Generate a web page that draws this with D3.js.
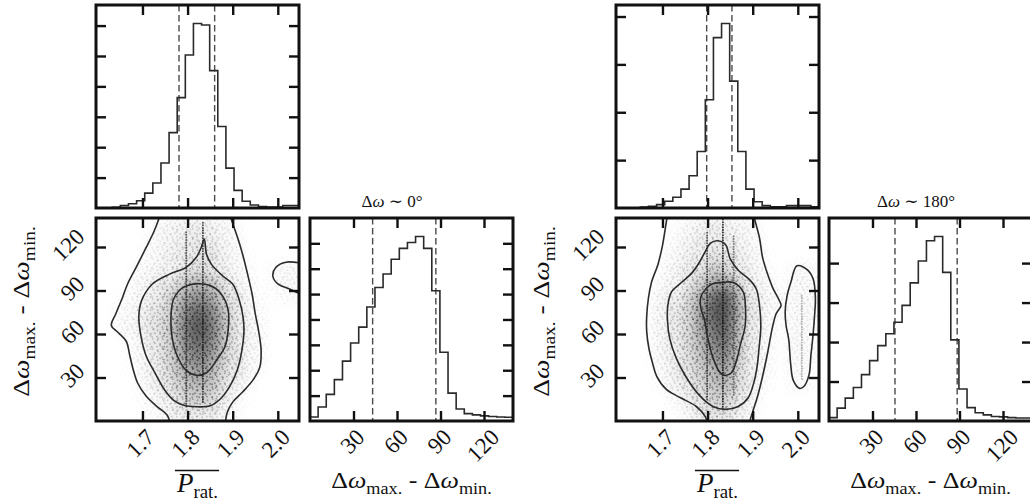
<!DOCTYPE html>
<html>
<head>
<meta charset="utf-8">
<script src="https://cdn.jsdelivr.net/npm/d3@7/dist/d3.min.js"></script>
<style>
  html, body { margin: 0; padding: 0; background: #fff; }
  svg { display: block; }
  text { font-family: "Liberation Serif", "DejaVu Serif", serif; fill: #111; white-space: pre; }
</style>
</head>
<body>
<svg id="chart" width="1030" height="504"></svg>
<script>
// ---------------- data ----------------
const pratDomain = [1.597, 2.047];
const dwDomain = [0, 140];
const pratTicks = [1.7, 1.8, 1.9, 2.0];
const pratTickLabels = ["1.7", "1.8", "1.9", "2.0"];
const dwTicks = [30, 60, 90, 120];
const dwTickLabels = ["30", "60", "90", "120"];
const nBins = 25;

// run with Δω ~ 0°
const pratCountsA = [0, 0, 2, 8, 14, 24, 49, 82, 148, 248, 363, 503, 607, 602, 452, 268, 131, 58, 22, 10, 5, 3, 3, 8, 8];
const dwCountsA = [16, 55, 105, 163, 236, 307, 370, 449, 526, 579, 637, 680, 703, 727, 680, 513, 271, 110, 47, 29, 24, 20, 18, 16, 15];
const pratQuantA = [1.781, 1.860];
const dwQuantA = [43.2, 86.8];
const pratCountTicksA = [100, 200, 300, 400, 500, 600];
const dwCountTicksA = [100, 200, 300, 400, 500, 600, 700];

// run with Δω ~ 180°
const pratCountsB = [0, 0, 0, 4, 7, 14, 28, 45, 79, 135, 236, 452, 712, 771, 530, 236, 79, 26, 10, 5, 5, 10, 10, 10, 5];
const dwCountsB = [17, 65, 116, 170, 235, 306, 382, 442, 500, 586, 700, 811, 913, 935, 753, 411, 162, 68, 42, 31, 23, 21, 17, 15, 15];
const pratQuantB = [1.798, 1.854];
const dwQuantB = [45.5, 88.4];
const pratCountTicksB = [200, 400, 600, 800];
const dwCountTicksB = [200, 400, 600, 800];

// 2-D sample density, 0..10, rows from Δω 130-140 down to 0-10,
// columns P from 1.600 to 2.050 in steps of 0.025
const densityA = [
  [0,0,0,0,0,0.8,1.2,1.5,1.8,1.8,1.3,1,0.4,0,0,0,0,0],
  [0,0,0,0,0.4,1,1.4,1.8,2.2,2.5,1.6,1.1,0.6,0,0,0,0,0],
  [0,0,0,0.2,0.7,1.1,1.6,2,2.6,3,2,1.2,0.8,0.2,0,0,0,0],
  [0,0,0,0.6,0.9,1.3,1.9,2.6,3.2,3.4,2.5,1.4,0.9,0.4,0.1,0.3,0.9,0.9],
  [0,0,0.2,0.8,1.3,2,2.8,4,5.5,5.5,4,2.6,1.2,0.6,0.2,0.4,1,0.9],
  [0,0.1,0.5,1,1.6,2.6,4,6,7.5,7.5,6,3.2,2,0.8,0.3,0.2,0.5,0.5],
  [0,0.3,0.7,1.2,2,3,4.5,7,9,9,7,4,2.4,1,0.5,0,0,0],
  [0,0.5,0.9,1.3,2.2,3.2,4.8,7.5,9.5,9.5,7.5,4.5,2.5,1.2,0.7,0,0,0],
  [0,0,0.3,0.8,1.8,3,4.5,7,9,9,7,4,2.4,1.1,0.8,0,0,0],
  [0,0,0.2,0.7,1.6,2.8,4.2,6.5,8,8,6.2,3.5,2.2,1,0.7,0,0,0],
  [0,0,0.1,0.6,1.4,2.5,3.8,5.5,6.8,6.8,5,3,2,1,0.3,0,0,0],
  [0,0,0,0.4,1,2,3.2,4.5,5.5,5.5,4.2,2.6,1.2,0.5,0,0,0,0],
  [0,0,0,0.2,0.7,1.3,2.3,3.5,4.2,4.2,3.2,1.5,0.6,0.2,0,0,0,0],
  [0,0,0,0.1,0.3,0.8,1.5,2.3,2.6,2.6,2,0.9,0.3,0,0,0,0,0]
];
const densityB = [
  [0,0,0,0,0,0.5,1,1.5,1.8,1.6,1.2,1,0.4,0,0,0,0,0],
  [0,0,0,0,0.3,0.9,1.4,2,2.4,2,1.5,1.1,0.6,0,0,0,0,0],
  [0,0,0,0,0.6,1.1,1.7,2.3,3,2.8,2,1.3,0.9,0.2,0,0,0,0],
  [0,0,0,0.2,0.9,1.4,2.2,3,4.2,4.3,2.6,1.6,1,0.4,0,0.5,0.9,0.5],
  [0,0,0,0.5,1.1,1.9,3,4.5,6.5,7,4.5,2.3,1.3,0.7,0.2,0.7,1,0.7],
  [0,0,0.2,0.8,1.6,2.5,4,6.5,9,10,6.5,3,1.6,1,0.7,0.8,1,0.8],
  [0,0,0.3,1,1.8,2.9,4.5,7,9.5,10,7,3.2,1.7,0.9,0.4,0.8,1,0.8],
  [0,0,0.3,1,1.8,2.8,4.3,6.8,9,9.5,6.5,3,1.5,0.8,0.2,0.8,1,0.7],
  [0,0,0.2,0.9,1.7,2.7,4,6,8,9,6,2.8,1.4,0.7,0.1,0.8,1,0.6],
  [0,0,0.1,0.8,1.5,2.5,3.6,5.3,7,8,5.2,2.6,1.3,0.6,0,0.8,0.9,0.5],
  [0,0,0,0.6,1.3,2.2,3.3,4.5,6,6.8,4.5,2.4,1.1,0.5,0,0.7,0.8,0.3],
  [0,0,0,0.3,1,1.8,2.8,3.8,5,5.5,3.8,2,0.9,0.3,0,0.5,0.6,0.2],
  [0,0,0,0,0.4,1,2,3,4,4.3,3,1.6,0.5,0,0,0,0,0],
  [0,0,0,0,0,0.4,1.2,2.2,3,3.2,2.4,1,0.2,0,0,0,0,0]
];
const densityColEdges = d3.range(19).map(i => 1.6 + i * 0.025);
const densityRowEdges = d3.range(15).map(i => 140 - i * 10);

// vertical runs of repeated P values: [P, Δω low, Δω high, weight]
const streaksA = [[1.797, 10, 131, 0.8], [1.834, 13, 137, 0.9]];
const streaksB = [[1.799, 15, 131, 0.8], [1.834, 8, 140, 1.0], [1.858, 18, 128, 0.6], [2.009, 29, 88, 0.35]];

// density contours, [P, Δω]
const outerLeftA = [[1.740,143],[1.737,140],[1.726,131],[1.708,119.5],[1.686,106],[1.667,94.5],[1.656,85.4],[1.641,74],[1.631,66],[1.646,61],[1.664,55],[1.672,45],[1.679,36],[1.689,26.4],[1.708,17.3],[1.733,9.8],[1.755,4],[1.762,-3]];
const outerRightA = [[1.894,143],[1.896,140],[1.911,126.4],[1.922,115],[1.933,101.3],[1.943,87.6],[1.950,74],[1.957,63],[1.963,49],[1.960,37],[1.946,28.7],[1.922,20],[1.900,13],[1.888,6],[1.883,-3]];
const islandA = [[2.060,108.5],[2.018,109.5],[1.996,106],[1.989,100.2],[2.000,94.5],[2.026,91],[2.060,86]];
const middleA = [[1.837,125.5],[1.842,115],[1.853,108],[1.878,100],[1.900,94.5],[1.915,83],[1.923,71.7],[1.925,62],[1.920,48],[1.910,35],[1.892,23],[1.872,15],[1.850,10.5],[1.820,9.8],[1.790,11],[1.770,14],[1.750,21],[1.728,33],[1.708,45],[1.697,58],[1.692,72],[1.698,83],[1.722,94.5],[1.760,101.3],[1.797,106],[1.819,112.7],[1.830,119.5]];
const innerA = [[1.828,94.7],[1.857,92.4],[1.879,85.6],[1.890,76.5],[1.890,63],[1.883,51.4],[1.865,42.3],[1.842,33.3],[1.820,31.5],[1.798,34.5],[1.777,45],[1.766,57],[1.763,69.7],[1.768,83.3],[1.783,90.5],[1.800,93.5]];

const outerLeftB = [[1.712,143],[1.710,140],[1.700,121],[1.690,108],[1.676,96],[1.669,85],[1.665,72],[1.665,62],[1.670,50],[1.678,40],[1.687,31],[1.708,22],[1.740,16],[1.775,10],[1.795,3],[1.800,-3]];
const outerRightB = [[1.903,143],[1.904,140],[1.915,126.4],[1.922,112.7],[1.933,101.3],[1.944,92.2],[1.959,83.1],[1.963,79.7],[1.952,74],[1.944,64.9],[1.933,46.9],[1.922,30.9],[1.911,17.3],[1.902,8.2],[1.895,1.4],[1.893,-3]];
const islandB = [[1.998,107],[2.020,104.5],[2.034,98],[2.039,85],[2.037,72],[2.034,60],[2.029,45],[2.025,32],[2.014,24],[2.004,22.5],[1.990,28],[1.984,40],[1.980,56],[1.974,66],[1.972,75],[1.976,86],[1.985,96]];
const middleB = [[1.822,124.3],[1.840,121.5],[1.850,112],[1.868,104],[1.893,97.5],[1.908,91],[1.915,80],[1.918,65],[1.914,50],[1.910,38],[1.903,27],[1.890,16],[1.868,10],[1.838,8],[1.812,10],[1.783,17.3],[1.753,30],[1.731,43],[1.716,57],[1.711,70],[1.712,80],[1.720,89],[1.740,95],[1.765,102],[1.783,110],[1.795,117],[1.806,122.5]];
const innerB = [[1.830,95.5],[1.857,95.5],[1.879,89],[1.884,78],[1.883,65],[1.873,53],[1.864,41.5],[1.853,33.3],[1.837,31.5],[1.825,34.5],[1.811,44.6],[1.800,58],[1.793,70],[1.785,78],[1.785,85.5],[1.796,91],[1.810,94.5]];

// ---------------- drawing ----------------
const S = 203;
const INK = "#111";
const svg = d3.select("#chart");
const defs = svg.append("defs");

defs.append("filter").attr("id", "soften")
  .attr("x", "-15%").attr("y", "-15%").attr("width", "130%").attr("height", "130%")
  .append("feGaussianBlur").attr("stdDeviation", 4.5);

// fine grain texture for the sample cloud
const grainTiles = [
  { id: "grain1", size: 10, dots: [[1.5,2.2],[6.8,1.1],[4.1,5.9],[8.9,5.2],[0.9,8.6],[6.2,9.1]] },
  { id: "grain2", size: 13, dots: [[2.6,0.9],[10.1,3.4],[5.9,7.2],[12.1,10.3],[3.2,11.6]] }
];
grainTiles.forEach(tile => {
  const p = defs.append("pattern").attr("id", tile.id)
    .attr("patternUnits", "userSpaceOnUse").attr("width", tile.size).attr("height", tile.size);
  tile.dots.forEach(([cx, cy]) => p.append("circle").attr("cx", cx).attr("cy", cy)
    .attr("r", 0.95).attr("fill", "#383838"));
});

const baseOpacity = d3.scalePow().exponent(1.6).domain([0, 10]).range([0, 0.8]).clamp(true);
const grainOpacity = d3.scaleLinear().domain([0, 10]).range([0, 1]).clamp(true);

function binEdges(domain) {
  return d3.range(nBins + 1).map(i => domain[0] + i * (domain[1] - domain[0]) / nBins);
}

function framedTicks(g, x, xVals, y, yVals) {
  const tidy = s => {
    s.select(".domain").remove();
    s.selectAll("text").remove();
    s.selectAll("line").attr("stroke", INK).attr("stroke-width", 2.4);
  };
  g.append("g").attr("transform", `translate(0,${S})`).call(d3.axisBottom(x).tickValues(xVals).tickSize(-10)).call(tidy);
  g.append("g").call(d3.axisTop(x).tickValues(xVals).tickSize(-10)).call(tidy);
  g.append("g").call(d3.axisLeft(y).tickValues(yVals).tickSize(-10)).call(tidy);
  g.append("g").attr("transform", `translate(${S},0)`).call(d3.axisRight(y).tickValues(yVals).tickSize(-10)).call(tidy);
  g.append("rect").attr("width", S).attr("height", S)
    .attr("fill", "none").attr("stroke", INK).attr("stroke-width", 3);
}

// 45° tick label whose ink box is placed below (top edge at `edge`) or left of a tick
function slantedLabel(g, str, pos, edge, side) {
  const size = 23;
  const holder = g.append("g");
  const t = holder.append("text").attr("text-anchor", "middle").attr("dy", "0.33em")
    .attr("transform", "rotate(-45)").style("font-size", size + "px").text(str);
  const w = t.node().getComputedTextLength();
  const half = (w / 2 + size * 0.33) / Math.SQRT2;
  if (side === "below") holder.attr("transform", `translate(${pos},${edge + half})`);
  else holder.attr("transform", `translate(${edge - half},${pos})`);
}

function mathText(g, parts, size) {
  const t = g.append("text").style("font-size", size + "px");
  let lowered = false;
  parts.forEach(([s, kind]) => {
    const ts = t.append("tspan").text(s);
    if (kind === "it") ts.style("font-style", "italic");
    if (kind === "sub") {
      ts.style("font-size", (size * 0.7) + "px");
      if (!lowered) { ts.attr("dy", size * 0.24); lowered = true; }
    } else if (lowered) { ts.attr("dy", -size * 0.24); lowered = false; }
  });
  return t;
}
const dwLabelParts = [["Δ", "rm"], ["ω", "it"], ["max.", "sub"], [" - ", "rm"], ["Δ", "rm"], ["ω", "it"], ["min.", "sub"]];

function histPanel(g, domain, counts, quants, countTicks, axisTicks) {
  const x = d3.scaleLinear().domain(domain).range([0, S]);
  const y = d3.scaleLinear().domain([0, 1.1 * d3.max(counts)]).range([S, 0]);
  const edges = binEdges(domain);
  const pts = [[edges[0], 0]].concat(counts.map((c, i) => [edges[i], c]),
    [[edges[nBins], counts[nBins - 1]], [edges[nBins], 0]]);
  g.selectAll("line.q").data(quants).join("line").attr("class", "q")
    .attr("x1", d => x(d)).attr("x2", d => x(d)).attr("y1", 0).attr("y2", S)
    .attr("stroke", "#4a4a4a").attr("stroke-width", 1.4).attr("stroke-dasharray", "6.5,3.5");
  g.append("path").attr("d", d3.line().x(d => x(d[0])).y(d => y(d[1])).curve(d3.curveStepAfter)(pts))
    .attr("fill", "none").attr("stroke", "#2a2a2a").attr("stroke-width", 1.6);
  framedTicks(g, x, axisTicks, y, countTicks);
  return x;
}

function drawCorner(ox, colX, pratCounts, dwCounts, pratQuant, dwQuant, pratCountTicks, dwCountTicks,
                    density, streaks, contourOpen, contourClosed, title, titleX, key) {
  const rowTop = 5, rowBottom = 218;

  // marginal of P_rat
  const gTop = svg.append("g").attr("transform", `translate(${colX[0]},${rowTop})`);
  histPanel(gTop, pratDomain, pratCounts, pratQuant, pratCountTicks, pratTicks);

  // joint panel
  const g = svg.append("g").attr("transform", `translate(${colX[0]},${rowBottom})`);
  const x = d3.scaleLinear().domain(pratDomain).range([0, S]);
  const y = d3.scaleLinear().domain(dwDomain).range([S, 0]);
  defs.append("clipPath").attr("id", "clip" + key).append("rect").attr("width", S).attr("height", S);
  const inside = g.append("g").attr("clip-path", `url(#clip${key})`);

  const cells = [];
  density.forEach((row, r) => row.forEach((v, c) => cells.push({ r, c, v })));
  const cellRect = sel => sel
    .attr("x", d => x(densityColEdges[d.c]))
    .attr("width", d => x(densityColEdges[d.c + 1]) - x(densityColEdges[d.c]) + 0.5)
    .attr("y", d => y(densityRowEdges[d.r]))
    .attr("height", d => y(densityRowEdges[d.r + 1]) - y(densityRowEdges[d.r]) + 0.5);

  inside.append("g").attr("filter", "url(#soften)")
    .selectAll("rect").data(cells).join("rect").call(cellRect)
    .attr("fill", "#2f2f2f").attr("fill-opacity", d => baseOpacity(d.v));

  const mask = defs.append("mask").attr("id", "mask" + key).attr("maskUnits", "userSpaceOnUse")
    .attr("x", -20).attr("y", -20).attr("width", S + 40).attr("height", S + 40);
  mask.append("g").attr("filter", "url(#soften)")
    .selectAll("rect").data(cells).join("rect").call(cellRect)
    .attr("fill", "#fff").attr("fill-opacity", d => grainOpacity(d.v));
  grainTiles.forEach(tile => inside.append("rect").attr("width", S).attr("height", S)
    .attr("fill", `url(#${tile.id})`).attr("mask", `url(#mask${key})`));

  inside.selectAll("line.streak").data(streaks).join("line").attr("class", "streak")
    .attr("x1", d => x(d[0])).attr("x2", d => x(d[0]))
    .attr("y1", d => y(d[1])).attr("y2", d => y(d[2]))
    .attr("stroke", "#151515").attr("stroke-width", 1.9).attr("stroke-linecap", "round")
    .attr("stroke-dasharray", "0.1,2.5").attr("stroke-opacity", d => 0.85 * d[3]);

  const openLine = d3.line().x(d => x(d[0])).y(d => y(d[1])).curve(d3.curveCatmullRom.alpha(0.5));
  const closedLine = d3.line().x(d => x(d[0])).y(d => y(d[1])).curve(d3.curveCatmullRomClosed.alpha(0.5));
  contourOpen.forEach(pts => inside.append("path").attr("d", openLine(pts))
    .attr("fill", "none").attr("stroke", "#2b2b2b").attr("stroke-width", 1.6));
  contourClosed.forEach(pts => inside.append("path").attr("d", closedLine(pts))
    .attr("fill", "none").attr("stroke", "#2b2b2b").attr("stroke-width", 1.6));

  framedTicks(g, x, pratTicks, y, dwTicks);
  pratTicks.forEach((v, i) => slantedLabel(g, pratTickLabels[i], x(v) - 2, S + 7, "below"));
  dwTicks.forEach((v, i) => slantedLabel(g, dwTickLabels[i], y(v) - 2, -10, "left"));

  // axis labels of the joint panel
  const xl = mathText(g, [["P", "it"], ["rat.", "sub"]], 27)
    .attr("text-anchor", "middle").attr("x", S / 2).attr("y", 274);
  const bb = xl.node().getBBox();
  g.append("line").attr("x1", bb.x - 1).attr("x2", bb.x + bb.width + 1)
    .attr("y1", 252.5).attr("y2", 252.5).attr("stroke", INK).attr("stroke-width", 1.7);
  const yl = g.append("g")
    .attr("transform", `translate(${ox + 29 - colX[0]},${S / 2 - 8}) rotate(-90) scale(1.15,1)`);
  mathText(yl, dwLabelParts, 24).attr("text-anchor", "middle");

  // marginal of Δω
  const gR = svg.append("g").attr("transform", `translate(${colX[1]},${rowBottom})`);
  const xr = histPanel(gR, dwDomain, dwCounts, dwQuant, dwCountTicks, dwTicks);
  dwTicks.forEach((v, i) => slantedLabel(gR, dwTickLabels[i], xr(v) - 1, S + 7, "below"));
  const xlab = gR.append("g").attr("transform", `translate(${S / 2},270) scale(1.13,1)`);
  mathText(xlab, dwLabelParts, 23).attr("text-anchor", "middle");
  mathText(gR, title, 17).attr("text-anchor", "middle").attr("x", titleX - colX[1]).attr("y", -11);
}

drawCorner(0, [96, 310], pratCountsA, dwCountsA, pratQuantA, dwQuantA, pratCountTicksA, dwCountTicksA,
  densityA, streaksA, [outerLeftA, outerRightA, islandA], [middleA, innerA],
  [["Δ", "rm"], ["ω", "it"], [" ∼ 0°", "rm"]], 392, "A");
drawCorner(520, [616, 829], pratCountsB, dwCountsB, pratQuantB, dwQuantB, pratCountTicksB, dwCountTicksB,
  densityB, streaksB, [outerLeftB, outerRightB], [middleB, innerB, islandB],
  [["Δ", "rm"], ["ω", "it"], [" ∼ 180°", "rm"]], 916, "B");
</script>
</body>
</html>
